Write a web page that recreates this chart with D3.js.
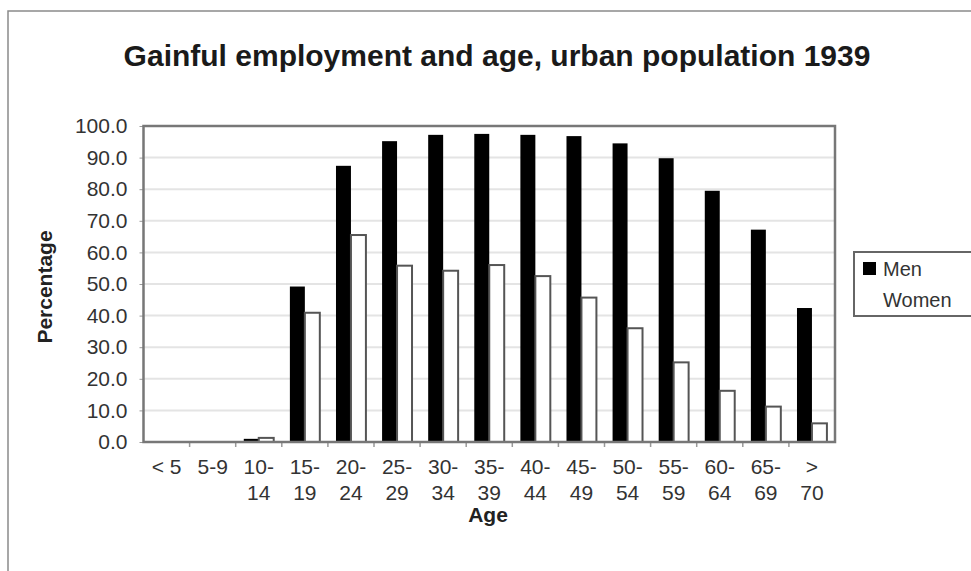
<!DOCTYPE html>
<html>
<head>
<meta charset="utf-8">
<script src="https://cdn.jsdelivr.net/npm/d3@7"></script>
<style>
  body { margin: 0; background: #fff; }
  text { font-family: "Liberation Sans", Arial, sans-serif; }
</style>
</head>
<body>
<svg id="chart" width="971" height="571"></svg>
<script>
// data
let ageGroups = ["<5", "5-9", "10-14", "15-19", "20-24", "25-29", "30-34", "35-39",
    "40-44", "45-49", "50-54", "55-59", "60-64", "65-69", ">70"];
let ageLabels = [["< 5"], ["5-9"], ["10-", "14"], ["15-", "19"], ["20-", "24"], ["25-", "29"],
    ["30-", "34"], ["35-", "39"], ["40-", "44"], ["45-", "49"], ["50-", "54"], ["55-", "59"],
    ["60-", "64"], ["65-", "69"], [">", "70"]];
let men = [0, 0, 1.0, 49.2, 87.4, 95.2, 97.2, 97.5, 97.2, 96.8, 94.5, 89.8, 79.5, 67.2, 42.4];
let women = [0, 0, 1.3, 40.9, 65.5, 55.8, 54.2, 56.0, 52.5, 45.7, 36.0, 25.2, 16.2, 11.2, 5.9];
let seriesNames = ["Men", "Women"];
let yTicks = [0, 10, 20, 30, 40, 50, 60, 70, 80, 90, 100];

let svg = d3.select("#chart");

let margin = {top: 126, right: 136, bottom: 129, left: 143.5};
let width = 971 - margin.left - margin.right;
let height = 571 - margin.top - margin.bottom;

// outer chart border (cut off at right and bottom in the original)
svg.append("rect")
    .attr("x", 8).attr("y", 11)
    .attr("width", 1000).attr("height", 600)
    .attr("fill", "none")
    .attr("stroke", "#8a8a8a")
    .attr("stroke-width", 1.5);

svg.append("text")
    .attr("x", 497).attr("y", 66)
    .attr("text-anchor", "middle")
    .attr("font-size", "30px")
    .attr("font-weight", "bold")
    .attr("fill", "#1a1a1a")
    .text("Gainful employment and age, urban population 1939");

let g = svg.append("g")
    .attr("transform", "translate(" + margin.left + "," + margin.top + ")");

let x0 = d3.scaleBand()
    .domain(ageGroups)
    .range([0, width]);

let x1 = d3.scaleBand()
    .domain(seriesNames)
    .range([0, x0.bandwidth()])
    .paddingOuter(0.54);

let y = d3.scaleLinear()
    .domain([0, 100])
    .range([height, 0]);

// gridlines
g.append("g")
    .selectAll("line")
    .data(yTicks.slice(1, -1))
    .enter().append("line")
    .attr("x1", 0).attr("x2", width)
    .attr("y1", d => y(d)).attr("y2", d => y(d))
    .attr("stroke", "#e4e4e4")
    .attr("stroke-width", 2);

// y axis
let yAxis = g.append("g")
    .call(d3.axisLeft(y).tickValues(yTicks).tickFormat(d3.format(".1f")).tickSize(4).tickPadding(12));
yAxis.select(".domain").remove();
yAxis.selectAll("line").attr("stroke", "#999");
yAxis.selectAll("text")
    .attr("font-size", "21px")
    .attr("fill", "#333");

// x axis: labels at band centres, ticks at band edges
let xAxis = g.append("g")
    .attr("transform", "translate(0," + height + ")")
    .call(d3.axisBottom(x0).tickSize(0).tickPadding(0));
xAxis.select(".domain").remove();
xAxis.selectAll("text").remove();
xAxis.selectAll(".tick").each(function (d, i) {
    let t = d3.select(this).append("text")
        .attr("fill", "#333")
        .attr("font-size", "21px")
        .attr("text-anchor", "middle");
    ageLabels[i].forEach(function (s, k) {
        t.append("tspan")
            .attr("x", 0)
            .attr("y", 32 + k * 26)
            .text(s);
    });
});
g.append("g")
    .selectAll("line")
    .data(ageGroups.slice(1))
    .enter().append("line")
    .attr("x1", d => x0(d)).attr("x2", d => x0(d))
    .attr("y1", height).attr("y2", height + 5)
    .attr("stroke", "#999")
    .attr("stroke-width", 1.5);

// bars
let rows = ageGroups.map((a, i) => ({age: a, Men: men[i], Women: women[i]}));
let groups = g.append("g")
    .selectAll("g")
    .data(rows)
    .enter().append("g")
    .attr("transform", d => "translate(" + x0(d.age) + ",0)");

groups.selectAll("rect")
    .data(d => seriesNames.map(k => ({key: k, value: d[k]})))
    .enter().append("rect")
    .attr("x", d => x1(d.key))
    .attr("y", d => y(d.value))
    .attr("width", x1.bandwidth())
    .attr("height", d => height - y(d.value))
    .attr("fill", d => d.key == "Men" ? "#000" : "#fff")
    .attr("stroke", d => d.key == "Men" ? "#000" : "#555")
    .attr("stroke-width", d => d.key == "Men" ? 0 : 2);

// plot frame
g.append("rect")
    .attr("width", width).attr("height", height)
    .attr("fill", "none")
    .attr("stroke", "#777")
    .attr("stroke-width", 2.5);

// axis titles
svg.append("text")
    .attr("x", 488).attr("y", 522)
    .attr("text-anchor", "middle")
    .attr("font-size", "21px")
    .attr("font-weight", "bold")
    .attr("fill", "#222")
    .text("Age");

svg.append("text")
    .attr("transform", "translate(52,287) rotate(-90)")
    .attr("text-anchor", "middle")
    .attr("font-size", "21px")
    .attr("font-weight", "bold")
    .attr("fill", "#222")
    .text("Percentage");

// legend
let legend = svg.append("g").attr("transform", "translate(854,252)");
legend.append("rect")
    .attr("width", 130).attr("height", 64)
    .attr("fill", "#fff")
    .attr("stroke", "#666")
    .attr("stroke-width", 2);
seriesNames.forEach(function (s, i) {
    legend.append("rect")
        .attr("x", 9).attr("y", 10 + i * 31)
        .attr("width", 13).attr("height", 13)
        .attr("fill", s == "Men" ? "#000" : "#fff");
    legend.append("text")
        .attr("x", 29).attr("y", 24 + i * 31)
        .attr("font-size", "20px")
        .attr("fill", "#333")
        .text(s);
});
</script>
</body>
</html>
